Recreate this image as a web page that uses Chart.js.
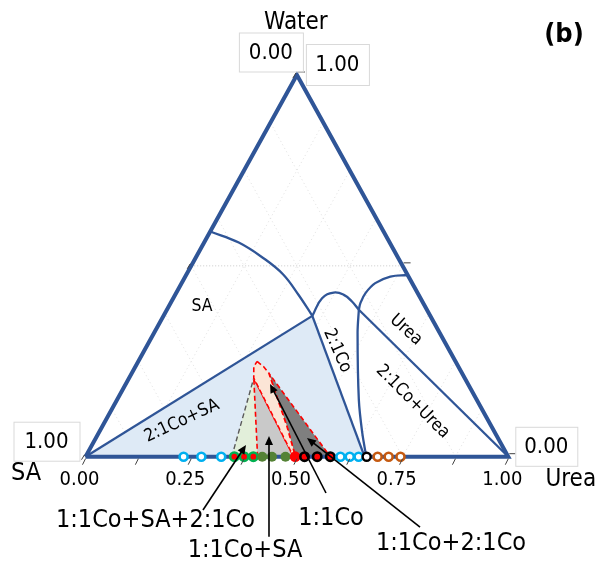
<!DOCTYPE html>
<html>
<head>
<meta charset="utf-8">
<script src="https://cdn.jsdelivr.net/npm/chart.js@4.4.0/dist/chart.umd.min.js"></script>
<style>html,body{margin:0;padding:0;background:#fff;}canvas{display:block;}</style>
</head>
<body>
<canvas id="c" width="600" height="563"></canvas>
<script>
// ---------- DATA (ternary points given as [urea fraction, water fraction]) ----------
const vertexNames = ['SA', 'Urea', 'Water'];
const bottomTickValues = [0, 0.25, 0.5, 0.75, 1];
const bottomTickLabels = ['0.00', '0.25', '0.50', '0.75', '1.00'];
const minorTickValues = [0, 0.125, 0.25, 0.375, 0.5, 0.625, 0.75, 0.875, 1];
const edgeTickValues = [0, 0.5, 1];
const gridValues = [0.125, 0.25, 0.375, 0.5, 0.625, 0.75, 0.875];
const waterGridValues = [0.5];
const cornerLabels = ['0.00', '1.00', '1.00', '0.00']; // top-left, top-right, SA vertex, Urea vertex

const outline = [[0, 0], [1, 0], [0, 1], [0, 0]];
const saCurve = [[0, 0.59], [0.082, 0.561], [0.161, 0.52], [0.228, 0.478], [0.293, 0.423], [0.352, 0.369]];
const coSaRegion = [[0, 0], [0.352, 0.369], [0.66, 0], [0, 0]];
const coDome = [[0.352, 0.369], [0.352, 0.415], [0.372, 0.430], [0.399, 0.424], [0.427, 0.4065], [0.454, 0.385]];
const coUreaLine = [[0.454, 0.385], [1, 0]];
const coRightLine = [[0.454, 0.385], [0.481, 0.325], [0.572, 0.149], [0.623, 0.063], [0.664, 0]];
const ureaCurve = [[0.524, 0.476], [0.485, 0.472], [0.458, 0.4547], [0.448, 0.4285], [0.449, 0.4024], [0.454, 0.385]];

const greenRegion = [[0.346, 0], [0.295, 0.206], [0.407, 0], [0.346, 0]];
const greenLeftEdge = [[0.346, 0], [0.295, 0.206]];
const greyRegion = [[0.407, 0], [0.295, 0.206], [0.492, 0], [0.407, 0]];
const darkRegion = [[0.324, 0.219], [0.387, 0.141], [0.437, 0.079], [0.483, 0.018], [0.496, 0], [0.579, 0], [0.324, 0.219]];
const peachRegion = [[0.281, 0.2495], [0.303, 0.236], [0.324, 0.219], [0.387, 0.141], [0.437, 0.079], [0.483, 0.018], [0.496, 0], [0.492, 0], [0.295, 0.206], [0.280, 0.236], [0.281, 0.2495]];

// experimental points on the SA–Urea edge (urea fraction, water = 0)
const cyanLow = [0.232, 0.274, 0.321];
const greenRed = [0.352, 0.375, 0.397];
const olivePts = [0.418, 0.441, 0.473];
const redPts = [0.496];
const blackRed = [0.518, 0.548, 0.579];
const cyanHigh = [0.603, 0.625, 0.646];
const blackOpen = [0.665];
const orangeOpen = [0.691, 0.717, 0.745];

const regionLabels = ['SA', '2:1Co+SA', '2:1Co', 'Urea', '2:1Co+Urea'];
const calloutLabels = ['1:1Co+SA+2:1Co', '1:1Co+SA', '1:1Co', '1:1Co+2:1Co'];
const panelLabel = '(b)';

// ---------- LAYOUT (positions in plot units X = urea + water/2, Y = water) ----------
const regionLabelPos = [[0.2755, 0.393, 0], [0.228, 0.0935, -25], [0.5956, 0.2777, 66], [0.758, 0.332, 42], [0.774, 0.144, 45]];
const calloutPos = [[0.1656, -0.1682], [0.3772, -0.247], [0.5807, -0.1632], [0.8645, -0.2287]];
const arrowPos = [
  [[0.2779, -0.1397], [0.3796, 0.0307]],
  [[0.434, -0.21], [0.434, 0.0542]],
  [[0.5688, -0.0951], [0.4364, 0.1905]],
  [[0.7912, -0.1842], [0.5239, 0.049]]
];

const FONT = "'DejaVu Sans Condensed','DejaVu Sans',sans-serif";
const BLUE = '#2F5597';

function pt(p) { return { x: p[0] + p[1] / 2, y: p[1] }; }
function path(arr) { return arr.map(pt); }

const datasets = [];
function addLine(arr, opts) {
  datasets.push(Object.assign({
    data: path(arr), showLine: true, pointRadius: 0, borderWidth: 2.3,
    borderColor: BLUE, fill: false, tension: 0, clip: false
  }, opts));
}
function addRegion(arr, fillColor, border, dash) {
  datasets.push({
    data: path(arr), showLine: true, pointRadius: 0, fill: 'shape',
    backgroundColor: fillColor, borderColor: border || 'rgba(0,0,0,0)',
    borderWidth: border ? 1.6 : 0, borderDash: dash || [], tension: 0, clip: false
  });
}
function addMarkers(vals, r, bw, border, bg) {
  datasets.push({
    data: vals.map(u => pt([u, 0])), showLine: false, pointRadius: r,
    pointBorderWidth: bw, pointBorderColor: border, pointBackgroundColor: bg,
    pointStyle: 'circle', clip: false
  });
}

// grid (bottom layer)
const gridStyle = { borderColor: '#dedede', borderWidth: 1, borderDash: [1, 3] };
gridValues.forEach(c => addLine([[c, 0], [c, 1 - c]], gridStyle));
gridValues.forEach(c => addLine([[1 - c, 0], [0, 1 - c]], gridStyle));
waterGridValues.forEach(c => addLine([[0, c], [1 - c, c]], { borderColor: '#c8c8c8', borderWidth: 1, borderDash: [1, 2] }));

// regions
addRegion(coSaRegion, '#DEEAF6');
addRegion(greenRegion, '#E2EFDA');
addLine(greenLeftEdge, { borderColor: '#595959', borderWidth: 1.4, borderDash: [5, 3] });
addRegion(greyRegion, '#C9C9C9', '#FF0000', [5, 3]);
addRegion(darkRegion, '#7F7F7F', '#FF0000', [5, 3]);
addRegion(peachRegion, '#FBE5D6', '#FF0000', [5, 3]);

// phase boundaries
addLine(saCurve, { tension: 0.4 });
addLine([coSaRegion[0], coSaRegion[1]]);
addLine([coSaRegion[1], coSaRegion[2]]);
addLine(coDome, { tension: 0.45 });
addLine(coUreaLine);
addLine(coRightLine, { tension: 0.3 });
addLine(ureaCurve, { tension: 0.4 });
addLine(outline, { borderWidth: 4 });

// markers
addMarkers(cyanLow, 4, 2.6, '#00B0F0', '#FFFFFF');
addMarkers(greenRed, 4.2, 2.6, '#00B050', '#FF0000');
addMarkers(olivePts, 5, 0, '#548235', '#548235');
addMarkers(redPts, 5.4, 0, '#FF0000', '#FF0000');
addMarkers(blackRed, 4.2, 2.6, '#000000', '#FF0000');
addMarkers(cyanHigh, 4, 2.6, '#00B0F0', '#FFFFFF');
addMarkers(blackOpen, 4, 2.4, '#000000', '#FFFFFF');
addMarkers(orangeOpen, 4, 2.6, '#C55A11', '#FFFFFF');

const N = datasets.length;
datasets.forEach((d, i) => { d.order = N - i; });

const decor = {
  id: 'decor',
  afterDatasetsDraw(chart) {
    const ctx = chart.ctx, sx = chart.scales.x, sy = chart.scales.y;
    const X = v => sx.getPixelForValue(v), Y = v => sy.getPixelForValue(v);
    const P = p => { const q = pt(p); return [X(q.x), Y(q.y)]; };
    const text = (s, x, y, size, rot, weight) => {
      ctx.save();
      ctx.translate(x, y);
      if (rot) ctx.rotate(rot * Math.PI / 180);
      ctx.font = (weight || '') + ' ' + size + 'px ' + FONT;
      ctx.fillStyle = '#000';
      ctx.textAlign = 'center';
      ctx.textBaseline = 'middle';
      ctx.fillText(s, 0, 0);
      ctx.restore();
    };
    const box = (s, x, y, w, h) => {
      ctx.save();
      ctx.fillStyle = '#fff';
      ctx.strokeStyle = '#d9d9d9';
      ctx.lineWidth = 1;
      ctx.fillRect(x - w / 2, y - h / 2, w, h);
      ctx.strokeRect(x - w / 2 + 0.5, y - h / 2 + 0.5, w, h);
      ctx.restore();
      text(s, x, y + 1, 22);
    };
    // ticks
    ctx.save();
    ctx.strokeStyle = '#404040';
    ctx.lineWidth = 1;
    minorTickValues.forEach(v => {
      const [x, y] = P([v, 0]);
      ctx.beginPath(); ctx.moveTo(x, y + 2); ctx.lineTo(x - 3, y + 8); ctx.stroke();
    });
    edgeTickValues.forEach(v => {
      let [x, y] = P([0, v]);
      ctx.beginPath(); ctx.moveTo(x - 1, y - 2); ctx.lineTo(x - 4, y + 3); ctx.stroke();
      [x, y] = P([1 - v, v]);
      ctx.beginPath(); ctx.moveTo(x + 1, y - 3); ctx.lineTo(x + 8, y - 3); ctx.stroke();
    });
    ctx.restore();
    // bottom tick labels
    bottomTickValues.forEach((v, i) => {
      const [x, y] = P([v, 0]);
      text(bottomTickLabels[i], x - 6, y + 23, 20);
    });
    const [lx, ly] = P([0, 0]), [rx, ry] = P([1, 0]), [tx, ty] = P([0, 1]);
    // corner label boxes
    box(cornerLabels[0], tx - 26, ty - 23, 64, 39);
    box(cornerLabels[1], tx + 40.5, ty - 10.5, 63, 41);
    box(cornerLabels[2], lx - 39, ly - 15.5, 66, 39);
    box(cornerLabels[3], rx + 38, ry - 10.4, 62, 39);
    // axis titles
    text(vertexNames[2], tx - 1, ty - 52, 24);
    text(vertexNames[0], lx - 59.5, ly + 17, 25);
    text(vertexNames[1], rx + 62.5, ry + 23, 24);
    text(panelLabel, 564, 35, 27, 0, 'bold');
    // region labels
    regionLabels.forEach((s, i) => {
      const p = regionLabelPos[i];
      text(s, X(p[0]), Y(p[1]), 17.5, p[2]);
    });
    // arrows
    ctx.save();
    ctx.strokeStyle = '#000'; ctx.fillStyle = '#000'; ctx.lineWidth = 1.6;
    arrowPos.forEach(a => {
      const x0 = X(a[0][0]), y0 = Y(a[0][1]), x1 = X(a[1][0]), y1 = Y(a[1][1]);
      const ang = Math.atan2(y1 - y0, x1 - x0), L = 9, Wd = 4;
      ctx.beginPath(); ctx.moveTo(x0, y0);
      ctx.lineTo(x1 - Math.cos(ang) * L * 0.8, y1 - Math.sin(ang) * L * 0.8); ctx.stroke();
      ctx.beginPath();
      ctx.moveTo(x1, y1);
      ctx.lineTo(x1 - L * Math.cos(ang) + Wd * Math.sin(ang), y1 - L * Math.sin(ang) - Wd * Math.cos(ang));
      ctx.lineTo(x1 - L * Math.cos(ang) - Wd * Math.sin(ang), y1 - L * Math.sin(ang) + Wd * Math.cos(ang));
      ctx.closePath(); ctx.fill();
    });
    ctx.restore();
    // callout labels
    calloutLabels.forEach((s, i) => {
      const p = calloutPos[i];
      text(s, X(p[0]), Y(p[1]), 25);
    });
  }
};

new Chart(document.getElementById('c'), {
  type: 'scatter',
  data: { datasets },
  options: {
    responsive: false,
    animation: false,
    devicePixelRatio: 1,
    layout: { padding: { left: 85.5, right: 91.7, top: 75, bottom: 106.3 } },
    scales: {
      x: { type: 'linear', min: 0, max: 1, display: false },
      y: { type: 'linear', min: 0, max: 1, display: false }
    },
    plugins: { legend: { display: false }, tooltip: { enabled: false } },
    elements: { line: { capBezierPoints: false } }
  },
  plugins: [decor]
});
</script>
</body>
</html>
